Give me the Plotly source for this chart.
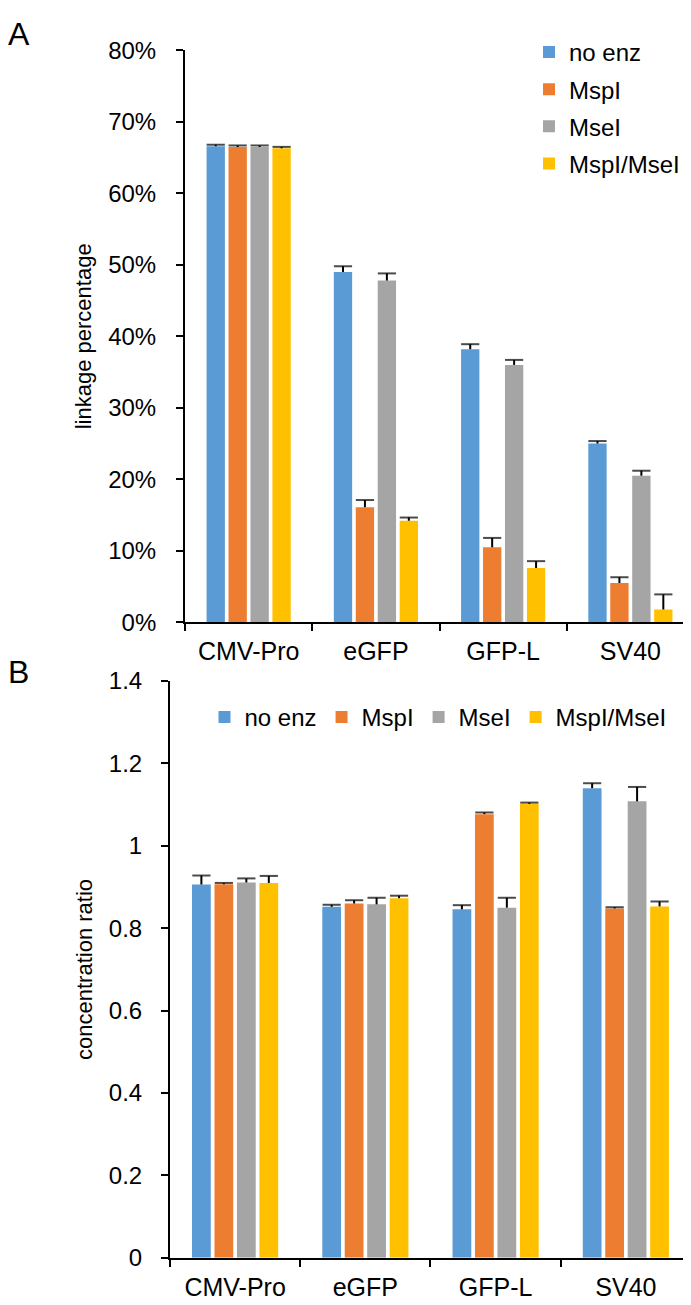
import plotly.graph_objects as go

categories = ["CMV-Pro", "eGFP", "GFP-L", "SV40"]
series_names = ["no enz", "MspI", "MseI", "MspI/MseI"]
colors = ["#5B9BD5", "#ED7D31", "#A5A5A5", "#FFC000"]

# Panel A: linkage percentage (%)
link_no_enz = [66.6, 49.0, 38.2, 25.0]
link_mspi = [66.5, 16.1, 10.5, 5.5]
link_msei = [66.5, 47.8, 36.0, 20.5]
link_both = [66.3, 14.2, 7.6, 1.8]
link_err_no_enz = [0.2, 0.8, 0.7, 0.35]
link_err_mspi = [0.2, 1.0, 1.3, 0.8]
link_err_msei = [0.2, 1.0, 0.7, 0.7]
link_err_both = [0.2, 0.45, 0.95, 2.1]

# Panel B: concentration ratio
ratio_no_enz = [0.906, 0.852, 0.846, 1.140]
ratio_mspi = [0.907, 0.860, 1.077, 0.848]
ratio_msei = [0.911, 0.858, 0.850, 1.108]
ratio_both = [0.910, 0.873, 1.102, 0.853]
ratio_err_no_enz = [0.022, 0.005, 0.010, 0.012]
ratio_err_mspi = [0.003, 0.008, 0.004, 0.003]
ratio_err_msei = [0.010, 0.016, 0.024, 0.035]
ratio_err_both = [0.017, 0.006, 0.003, 0.012]

y_ticks_a = [0, 10, 20, 30, 40, 50, 60, 70, 80]
y_ticklabels_a = ["0%", "10%", "20%", "30%", "40%", "50%", "60%", "70%", "80%"]
y_ticks_b = [0, 0.2, 0.4, 0.6, 0.8, 1.0, 1.2, 1.4]
y_ticklabels_b = ["0", "0.2", "0.4", "0.6", "0.8", "1", "1.2", "1.4"]

panel_a = [link_no_enz, link_mspi, link_msei, link_both]
panel_a_err = [link_err_no_enz, link_err_mspi, link_err_msei, link_err_both]
panel_b = [ratio_no_enz, ratio_mspi, ratio_msei, ratio_both]
panel_b_err = [ratio_err_no_enz, ratio_err_mspi, ratio_err_msei, ratio_err_both]

FONT = "Liberation Sans, Arial, sans-serif"
fig = go.Figure()


def add_panel(values, errors, xa, ya, legend):
    for name, color, vals in zip(series_names, colors, values):
        fig.add_trace(go.Bar(
            x=categories, y=vals, name=name, marker=dict(color=color, line=dict(width=0)),
            offsetgroup=name, xaxis=xa, yaxis=ya, legend=legend, legendgroup=legend + name,
        ))
    # plus-only error bars (stem + top cap), grouped with the bars
    for name, vals, errs in zip(series_names, values, errors):
        xs, ys, sizes = [], [], []
        for c, v, e in zip(categories, vals, errs):
            xs += [c, c, None]
            ys += [v, v + e, None]
            sizes += [0, 13, 0]
        fig.add_trace(go.Scatter(
            x=xs, y=ys, mode="lines+markers", offsetgroup=name,
            line=dict(color="black", width=2),
            marker=dict(symbol="line-ew", size=sizes, color="black",
                        line=dict(color="black", width=2)),
            showlegend=False, hoverinfo="skip", xaxis=xa, yaxis=ya,
        ))


add_panel(panel_a, panel_a_err, "x", "y", "legend")
add_panel(panel_b, panel_b_err, "x2", "y2", "legend2")

axis_common = dict(showline=True, linecolor="black", linewidth=2, ticks="outside",
                   ticklen=7, tickwidth=2, tickcolor="black", showgrid=False,
                   zeroline=False)
ytick_font = dict(size=24, family=FONT, color="black")
xtick_font = dict(size=25, family=FONT, color="black")

fig.update_layout(
    width=691, height=1305,
    margin=dict(l=0, r=0, t=0, b=0),
    paper_bgcolor="white", plot_bgcolor="white",
    font=dict(family=FONT, size=24, color="black"),
    barmode="group", bargap=0.31, bargroupgap=0.165,
    scattermode="group", scattergap=0.31,
    xaxis=dict(domain=[0.2562, 0.9928], anchor="y", type="category",
               tickson="boundaries", ticklabelstandoff=6, tickfont=xtick_font, **axis_common),
    yaxis=dict(domain=[0.5303, 0.9778], anchor="x", range=[0, 80],
               tickmode="array", tickvals=y_ticks_a, ticktext=y_ticklabels_a,
               ticklabelstandoff=15, tickfont=ytick_font,
               title=dict(text="linkage percentage", font=dict(size=22, family=FONT), standoff=10),
               **axis_common),
    xaxis2=dict(domain=[0.2344, 0.9884], anchor="y2", type="category",
                tickson="boundaries", ticklabelstandoff=6, tickfont=xtick_font, **axis_common),
    yaxis2=dict(domain=[0.0330, 0.4843], anchor="x2", range=[0, 1.4],
                tickmode="array", tickvals=y_ticks_b, ticktext=y_ticklabels_b,
                ticklabelstandoff=14, tickfont=ytick_font,
                title=dict(text="concentration ratio", font=dict(size=22, family=FONT), standoff=10),
                **axis_common),
    legend=dict(x=521 / 691, y=1 - 8 / 1305, xanchor="left", yanchor="top",
                orientation="v", font=dict(size=24, family=FONT), tracegroupgap=3,
                bgcolor="rgba(0,0,0,0)"),
    legend2=dict(x=430 / 691, y=1 - 710 / 1305, xanchor="center", yanchor="middle",
                 orientation="h", font=dict(size=24, family=FONT),
                 bgcolor="rgba(0,0,0,0)"),
    annotations=[
        dict(text="A", x=-2 / 691, y=1 + 8 / 1305, xref="paper", yref="paper",
             xanchor="left", yanchor="top", showarrow=False, font=dict(size=32, family=FONT)),
        dict(text="B", x=-2 / 691, y=1 - 643 / 1305, xref="paper", yref="paper",
             xanchor="left", yanchor="top", showarrow=False, font=dict(size=32, family=FONT)),
    ],
)

fig.write_html("out.html")
